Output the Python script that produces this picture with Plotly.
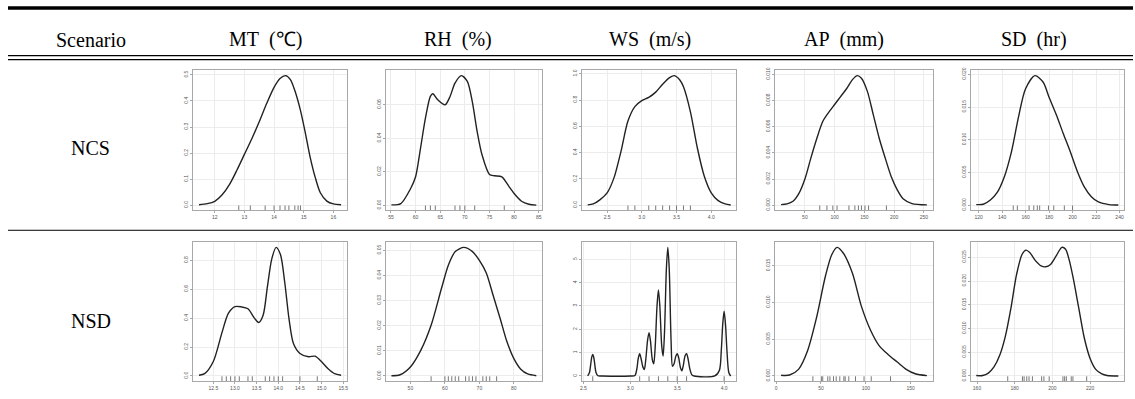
import plotly.graph_objects as go

W, H = 1135, 399

# ---------------- data ----------------
col_titles = ["Scenario", "MT\u00a0\u00a0(\u2103)", "RH\u00a0\u00a0(%)", "WS\u00a0\u00a0(m/s)", "AP\u00a0\u00a0(mm)", "SD\u00a0\u00a0(hr)"]
row_titles = ["NCS", "NSD"]

# NCS row
mt_ncs_x = [11.47, 11.75, 12.0, 12.25, 12.5, 12.75, 13.0, 13.25, 13.5, 13.75, 14.0, 14.2, 14.39, 14.55, 14.7, 14.89, 15.06, 15.22, 15.39, 15.56, 15.78, 16.0, 16.26]
mt_ncs_y = [0.002, 0.006, 0.015, 0.04, 0.08, 0.135, 0.195, 0.255, 0.32, 0.39, 0.452, 0.486, 0.497, 0.482, 0.44, 0.364, 0.274, 0.183, 0.106, 0.048, 0.016, 0.005, 0.002]
mt_ncs_rug = [12.81, 13.2, 13.7, 14.0, 14.2, 14.37, 14.5, 14.7, 14.81, 14.89]
mt_ncs_xt = [12, 13, 14, 15, 16]
mt_ncs_yt = [0, 0.1, 0.2, 0.3, 0.4, 0.5]
mt_ncs_yl = ["0.0", "0.1", "0.2", "0.3", "0.4", "0.5"]

rh_ncs_x = [55.1, 57, 59, 60, 61, 62, 63, 63.5, 64.5, 66, 67, 68, 69.3, 70.5, 71.5, 72.5, 73.5, 75, 76, 77.5, 79, 80, 81.5, 83, 84.5]
rh_ncs_y = [0.0002, 0.001, 0.010, 0.017, 0.034, 0.052, 0.065, 0.0666, 0.063, 0.060, 0.065, 0.073, 0.0774, 0.074, 0.062, 0.044, 0.030, 0.0184, 0.0176, 0.017, 0.011, 0.007, 0.0024, 0.0006, 0.0001]
rh_ncs_rug = [62, 63, 64, 68, 69, 70, 72, 78]
rh_ncs_xt = [55, 60, 65, 70, 75, 80, 85]
rh_ncs_yt = [0, 0.02, 0.04, 0.06]
rh_ncs_yl = ["0.00", "0.02", "0.04", "0.06"]

ws_ncs_x = [2.22, 2.3, 2.4, 2.5, 2.6, 2.7, 2.8, 2.9, 3.0, 3.1, 3.2, 3.3, 3.4, 3.47, 3.55, 3.6, 3.7, 3.8, 3.9, 4.0, 4.1, 4.2, 4.28]
ws_ncs_y = [0.003, 0.01, 0.043, 0.094, 0.21, 0.41, 0.64, 0.75, 0.795, 0.82, 0.86, 0.92, 0.97, 0.985, 0.95, 0.90, 0.71, 0.435, 0.22, 0.094, 0.035, 0.01, 0.002]
ws_ncs_rug = [2.8, 2.9, 3.1, 3.2, 3.3, 3.4, 3.5, 3.6, 3.7]
ws_ncs_xt = [2.5, 3.0, 3.5, 4.0]
ws_ncs_yt = [0, 0.2, 0.4, 0.6, 0.8, 1.0]
ws_ncs_yl = ["0.0", "0.2", "0.4", "0.6", "0.8", "1.0"]

ap_ncs_x = [10, 20, 30, 40, 50, 60, 70, 80, 90, 100, 110, 120, 130, 138, 145, 155, 165, 175, 185, 195, 205, 215, 230, 255]
ap_ncs_y = [0.00005, 0.0001, 0.0003, 0.0009, 0.002, 0.0036, 0.0051, 0.0064, 0.0071, 0.0077, 0.0083, 0.0089, 0.0096, 0.0099, 0.0097, 0.0087, 0.0069, 0.0051, 0.0036, 0.0022, 0.0012, 0.0005, 0.00013, 0.00003]
ap_ncs_rug = [75, 87, 97, 104, 124, 134, 140, 145, 151, 157, 187]
ap_ncs_xt = [0, 50, 100, 150, 200, 250]
ap_ncs_yt = [0, 0.002, 0.004, 0.006, 0.008, 0.010]
ap_ncs_yl = ["0.000", "0.002", "0.004", "0.006", "0.008", "0.010"]

sd_ncs_x = [118, 124, 130, 136, 142, 148, 154, 160, 168, 175, 180, 186, 192, 198, 204, 210, 216, 222, 231, 239]
sd_ncs_y = [0.0001, 0.00015, 0.0008, 0.002, 0.0044, 0.0082, 0.0135, 0.0178, 0.0198, 0.0188, 0.0165, 0.0139, 0.011, 0.0082, 0.0052, 0.0028, 0.0013, 0.0005, 0.0001, 0.00003]
sd_ncs_rug = [149.5, 153, 163, 167, 170, 172, 179.5, 184, 193, 200]
sd_ncs_xt = [120, 140, 160, 180, 200, 220, 240]
sd_ncs_yt = [0, 0.005, 0.010, 0.015, 0.020]
sd_ncs_yl = ["0.000", "0.005", "0.010", "0.015", "0.020"]

# NSD row
mt_nsd_x = [12.17, 12.3, 12.5, 12.7, 12.85, 13.0, 13.15, 13.3, 13.45, 13.55, 13.65, 13.75, 13.85, 13.95, 14.05, 14.15, 14.25, 14.35, 14.5, 14.7, 14.85, 15.0, 15.15, 15.3, 15.45]
mt_nsd_y = [0.005, 0.016, 0.10, 0.30, 0.435, 0.48, 0.478, 0.465, 0.40, 0.37, 0.42, 0.62, 0.81, 0.89, 0.84, 0.645, 0.39, 0.225, 0.156, 0.133, 0.137, 0.098, 0.05, 0.016, 0.005]
mt_nsd_rug = [12.7, 12.8, 12.9, 13.0, 13.1, 13.3, 13.4, 13.7, 13.8, 13.9, 14.0, 14.1, 14.5, 14.9]
mt_nsd_xt = [12.5, 13.0, 13.5, 14.0, 14.5, 15.0, 15.5]
mt_nsd_yt = [0, 0.2, 0.4, 0.6, 0.8]
mt_nsd_yl = ["0.0", "0.2", "0.4", "0.6", "0.8"]

rh_nsd_x = [44.5, 47, 50, 53, 56, 59, 61, 63, 65.5, 68, 70, 72, 74, 76, 78, 80, 82, 84, 86.5]
rh_nsd_y = [0.0001, 0.0005, 0.0036, 0.0102, 0.0202, 0.0348, 0.0441, 0.0495, 0.0512, 0.0495, 0.046, 0.041, 0.032, 0.023, 0.0136, 0.0069, 0.0027, 0.0008, 0.0001]
rh_nsd_rug = [56, 60, 61, 62, 63, 64, 66, 67, 68, 69, 71, 72, 73, 75]
rh_nsd_xt = [50, 60, 70, 80]
rh_nsd_yt = [0, 0.01, 0.02, 0.03, 0.04, 0.05]
rh_nsd_yl = ["0.00", "0.01", "0.02", "0.03", "0.04", "0.05"]

ws_nsd_x = [2.546, 2.565, 2.58, 2.59, 2.6, 2.61, 2.62, 2.635, 2.655, 2.7, 3.0, 3.05, 3.07, 3.085, 3.1, 3.115, 3.135, 3.15, 3.165, 3.185, 3.2, 3.215, 3.235, 3.25, 3.265, 3.285, 3.3, 3.315, 3.335, 3.35, 3.365, 3.385, 3.4, 3.415, 3.435, 3.45, 3.465, 3.485, 3.5, 3.515, 3.535, 3.55, 3.565, 3.585, 3.6, 3.615, 3.635, 3.655, 3.68, 3.9, 3.95, 3.97, 3.985, 4.0, 4.015, 4.03, 4.05, 4.07]
ws_nsd_y = [0.0, 0.15, 0.55, 0.82, 0.92, 0.82, 0.55, 0.15, 0.01, 0.0, 0.0, 0.02, 0.3, 0.75, 0.95, 0.75, 0.38, 0.28, 0.7, 1.55, 1.85, 1.5, 0.7, 0.52, 1.2, 3.0, 3.69, 3.0, 1.3, 0.85, 1.9, 4.6, 5.51, 4.6, 1.5, 0.42, 0.5, 0.85, 0.95, 0.8, 0.35, 0.22, 0.45, 0.88, 0.95, 0.75, 0.3, 0.06, 0.0, 0.0, 0.25, 1.1, 2.2, 2.77, 2.2, 1.1, 0.15, 0.0]
ws_nsd_rug = [2.6, 3.1, 3.2, 3.3, 3.4, 3.5, 3.6, 4.0]
ws_nsd_xt = [2.5, 3.0, 3.5, 4.0]
ws_nsd_yt = [0, 1, 2, 3, 4, 5]
ws_nsd_yl = ["0", "1", "2", "3", "4", "5"]

ap_nsd_x = [5.6, 15, 25, 35, 45, 55, 62, 68, 75, 85, 95, 105, 115, 125, 135, 145, 155, 168]
ap_nsd_y = [0.0001, 0.00013, 0.0009, 0.0034, 0.0079, 0.0136, 0.0165, 0.0175, 0.0167, 0.014, 0.0095, 0.0063, 0.0041, 0.0029, 0.0019, 0.0009, 0.0003, 0.00005]
ap_nsd_rug = [41, 50.5, 52, 57.6, 60, 64, 67, 71, 75.5, 77, 81, 88.5, 98, 106, 127.5]
ap_nsd_xt = [0, 50, 100, 150]
ap_nsd_yt = [0, 0.005, 0.010, 0.015]
ap_nsd_yl = ["0.000", "0.005", "0.010", "0.015"]

sd_nsd_x = [159.6, 163, 166, 169, 172, 175, 178, 181, 184, 186, 188, 191, 194, 196.5, 199, 202, 205, 207, 209, 211, 214, 217, 220, 223, 226, 229, 235]
sd_nsd_y = [0.0001, 0.0001, 0.0006, 0.0019, 0.0043, 0.0083, 0.0143, 0.0214, 0.0257, 0.0265, 0.026, 0.0243, 0.0232, 0.023, 0.0235, 0.0253, 0.0271, 0.0267, 0.0243, 0.0207, 0.0143, 0.0079, 0.0037, 0.0014, 0.0005, 0.0001, 0.0]
sd_nsd_rug = [176.3, 184.1, 185, 186.4, 187.6, 189.4, 194.3, 195.5, 198.3, 205.6, 206.5, 207.4, 210, 210.9, 218.2]
sd_nsd_xt = [160, 180, 200, 220]
sd_nsd_yt = [0, 0.005, 0.010, 0.015, 0.020, 0.025]
sd_nsd_yl = ["0.000", "0.005", "0.010", "0.015", "0.020", "0.025"]

panels = [
    (mt_ncs_x, mt_ncs_y, mt_ncs_rug, mt_ncs_xt, mt_ncs_yt, mt_ncs_yl),
    (rh_ncs_x, rh_ncs_y, rh_ncs_rug, rh_ncs_xt, rh_ncs_yt, rh_ncs_yl),
    (ws_ncs_x, ws_ncs_y, ws_ncs_rug, ws_ncs_xt, ws_ncs_yt, ws_ncs_yl),
    (ap_ncs_x, ap_ncs_y, ap_ncs_rug, ap_ncs_xt, ap_ncs_yt, ap_ncs_yl),
    (sd_ncs_x, sd_ncs_y, sd_ncs_rug, sd_ncs_xt, sd_ncs_yt, sd_ncs_yl),
    (mt_nsd_x, mt_nsd_y, mt_nsd_rug, mt_nsd_xt, mt_nsd_yt, mt_nsd_yl),
    (rh_nsd_x, rh_nsd_y, rh_nsd_rug, rh_nsd_xt, rh_nsd_yt, rh_nsd_yl),
    (ws_nsd_x, ws_nsd_y, ws_nsd_rug, ws_nsd_xt, ws_nsd_yt, ws_nsd_yl),
    (ap_nsd_x, ap_nsd_y, ap_nsd_rug, ap_nsd_xt, ap_nsd_yt, ap_nsd_yl),
    (sd_nsd_x, sd_nsd_y, sd_nsd_rug, sd_nsd_xt, sd_nsd_yt, sd_nsd_yl),
]

# ---------------- layout geometry (pixels) ----------------
col_box = [(192, 346), (385, 542), (582, 737), (776, 934), (972, 1126)]
row_box = [(68, 209), (241, 381)]
col_centers = [89, 264, 458, 650, 845, 1036]
row_centers = [146, 320]

def px(x):
    return x / W

def py(y):
    return 1 - y / H

fig = go.Figure()
layout_axes = {}

for i, (xs, ys, rug, xt, yt, yl) in enumerate(panels):
    r, c = divmod(i, 5)
    n = i + 1
    xa = "xaxis" if n == 1 else f"xaxis{n}"
    ya = "yaxis" if n == 1 else f"yaxis{n}"
    xref = "x" if n == 1 else f"x{n}"
    yref = "y" if n == 1 else f"y{n}"
    xmin, xmax = min(xs), max(xs)
    ymin, ymax = 0.0, max(ys)
    xr = [xmin - 0.04 * (xmax - xmin), xmax + 0.04 * (xmax - xmin)]
    yr = [ymin - 0.04 * (ymax - ymin), ymax + 0.04 * (ymax - ymin)]

    fig.add_trace(go.Scatter(x=xs, y=ys, mode="lines", xaxis=xref, yaxis=yref,
                             line=dict(color="#222222", width=1.4, shape="spline", smoothing=0.8),
                             hoverinfo="skip", showlegend=False))
    rx, ry = [], []
    rug_h = 0.035 * (yr[1] - yr[0])
    for v in rug:
        rx += [v, v, None]
        ry += [yr[0], yr[0] + rug_h, None]
    fig.add_trace(go.Scatter(x=rx, y=ry, mode="lines", xaxis=xref, yaxis=yref,
                             line=dict(color="#555555", width=0.8),
                             hoverinfo="skip", showlegend=False))

    axcommon = dict(showline=True, mirror=True, linecolor="#a8a8a8", linewidth=1,
                    ticks="outside", ticklen=2, tickcolor="#a8a8a8", tickwidth=0.8,
                    showgrid=True, gridcolor="#ececec", gridwidth=1, zeroline=False,
                    tickfont=dict(family="Liberation Sans", size=5, color="#555555"))
    layout_axes[xa] = dict(axcommon, domain=[px(col_box[c][0]), px(col_box[c][1])], range=xr,
                           anchor=yref, tickvals=xt, ticktext=[str(v) for v in xt])
    layout_axes[ya] = dict(axcommon, domain=[py(row_box[r][1]), py(row_box[r][0])], range=yr,
                           anchor=xref, tickvals=yt, ticktext=yl, tickangle=-90)

fig.update_layout(**layout_axes)

# ---------------- table lines ----------------
shapes = [
    dict(type="line", xref="paper", yref="paper", x0=px(6), x1=1, y0=py(5), y1=py(5),
         line=dict(color="black", width=3.5)),
    dict(type="line", xref="paper", yref="paper", x0=px(6), x1=1, y0=py(53), y1=py(53),
         line=dict(color="black", width=1.2)),
    dict(type="line", xref="paper", yref="paper", x0=px(6), x1=1, y0=py(57), y1=py(57),
         line=dict(color="black", width=1.2)),
    dict(type="line", xref="paper", yref="paper", x0=px(6), x1=1, y0=py(229), y1=py(229),
         line=dict(color="black", width=1)),
]

annotations = []
for t, cx in zip(col_titles, col_centers):
    annotations.append(dict(text=t, x=px(cx), y=py(37), xref="paper", yref="paper",
                            showarrow=False, xanchor="center", yanchor="middle",
                            font=dict(family="Liberation Serif", size=20, color="black")))
for t, cy in zip(row_titles, row_centers):
    annotations.append(dict(text=t, x=px(col_centers[0]), y=py(cy), xref="paper", yref="paper",
                            showarrow=False, xanchor="center", yanchor="middle",
                            font=dict(family="Liberation Serif", size=20, color="black")))

fig.update_layout(width=W, height=H, margin=dict(l=0, r=0, t=0, b=0),
                  paper_bgcolor="white", plot_bgcolor="white",
                  shapes=shapes, annotations=annotations, showlegend=False)

fig.write_html("out.html", config={"displayModeBar": False},
               post_script="document.body.style.margin='0';document.body.style.overflow='hidden';")
